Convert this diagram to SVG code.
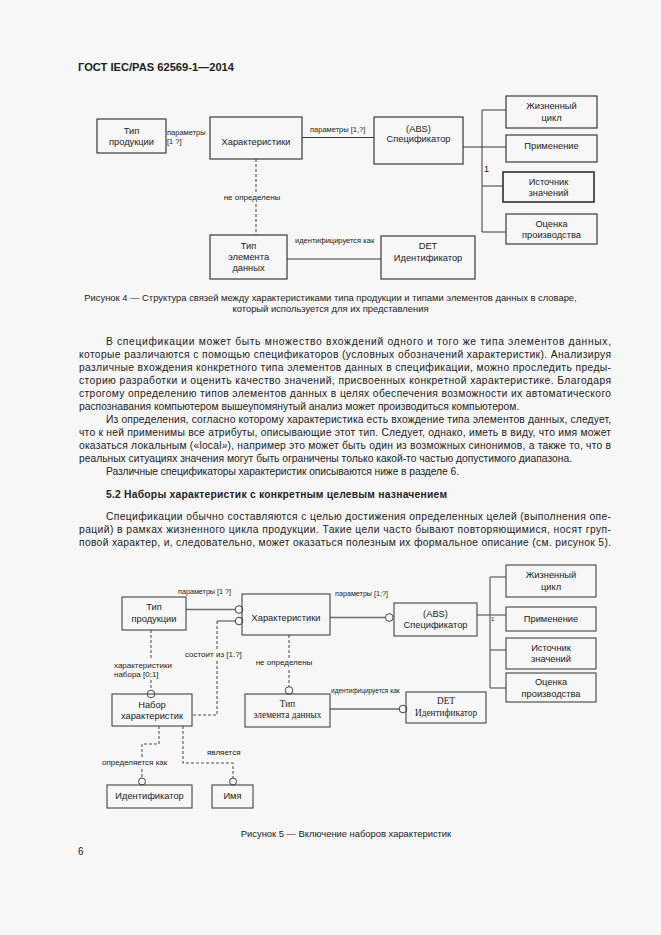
<svg xmlns="http://www.w3.org/2000/svg" width="661" height="935" viewBox="0 0 661 935">
<style>
.bg{fill:#f7f7f7}
.box{fill:none;stroke:#3a3a3a;stroke-width:1.2}
.box5{fill:none;stroke:#444;stroke-width:1.1}
.ln{fill:none;stroke:#3a3a3a;stroke-width:1}
.ln5{fill:none;stroke:#6a6a6a;stroke-width:1.3}
.dash{fill:none;stroke:#555;stroke-width:1.1;stroke-dasharray:3,2}
.circ{fill:#f7f7f7;stroke:#444;stroke-width:1}
.lbg{fill:#f7f7f7}
text{font-family:"Liberation Sans",Arial,sans-serif;fill:#222}
.body{font-size:10.3px}
.hdr{font-size:11px;font-weight:bold}
.cap{font-size:9.4px}
.nt{font-size:9.3px;text-anchor:middle}
.lb{font-size:7.5px}
.lb8{font-size:8px}
.ls{font-size:6.5px}
.sr{font-family:"Liberation Serif","Times New Roman",serif;font-size:9.3px;text-anchor:middle}
</style>
<rect class="bg" x="0" y="0" width="661" height="935"/>

<text class="hdr" x="78" y="70.5" textLength="156" lengthAdjust="spacingAndGlyphs">ГОСТ IEC/PAS 62569-1—2014</text>

<!-- Figure 4 -->
<g id="fig4-connectors">
<line class="ln" x1="302" y1="137.5" x2="374" y2="137.5"/>
<line class="dash" x1="256" y1="159" x2="256" y2="235"/>
<line class="ln" x1="287" y1="259" x2="381" y2="259"/>
<line class="ln" x1="463" y1="147" x2="482" y2="147"/>
<line class="ln" x1="482" y1="110" x2="482" y2="232"/>
<line class="ln" x1="482" y1="110" x2="506" y2="110"/>
<line class="ln" x1="482" y1="147" x2="506" y2="147"/>
<line class="ln" x1="482" y1="186" x2="503" y2="186"/>
<line class="ln" x1="482" y1="232" x2="506" y2="232"/>
<text class="lb" x="167" y="134.5">параметры</text>
<text class="lb" x="167" y="144">[1 ?]</text>
<text class="lb" x="310" y="131.5">параметры [1,?]</text>
<rect class="lbg" x="220" y="192" width="64" height="10"/>
<text class="lb8" x="252" y="199.5" text-anchor="middle">не определены</text>
<text class="lb" x="295" y="243">идентифицируется как</text>
<text x="484" y="172" style="font-size:9px">1</text>
</g>
<g id="f4-tip-produkcii">
<rect class="box" x="97" y="119" width="69" height="34"/>
<text class="nt" x="131.5" y="133.5">Тип</text>
<text class="nt" x="131.5" y="145">продукции</text>
</g>
<g id="f4-harakteristiki">
<rect class="box" x="210" y="117" width="92" height="42"/>
<text class="nt" x="256" y="145">Характеристики</text>
</g>
<g id="f4-specifikator">
<rect class="box" x="374" y="117" width="89" height="47"/>
<text class="nt" x="418.5" y="131.5">(ABS)</text>
<text class="nt" x="418.5" y="142">Спецификатор</text>
</g>
<g id="f4-tip-elementa">
<rect class="box" x="210" y="235" width="77" height="44"/>
<text class="nt" x="248.5" y="249">Тип</text>
<text class="nt" x="248.5" y="260">элемента</text>
<text class="nt" x="248.5" y="271">данных</text>
</g>
<g id="f4-det">
<rect class="box" x="381" y="236" width="94" height="43"/>
<text class="nt" x="428" y="249">DET</text>
<text class="nt" x="428" y="260.5">Идентификатор</text>
</g>
<g id="f4-zhiznennyj">
<rect class="box" x="506" y="96" width="91" height="32"/>
<text class="nt" x="551.5" y="109">Жизненный</text>
<text class="nt" x="551.5" y="120.5">цикл</text>
</g>
<g id="f4-primenenie">
<rect class="box" x="506" y="135" width="91" height="27"/>
<text class="nt" x="551.5" y="149">Применение</text>
</g>
<g id="f4-istochnik">
<rect class="box" x="503" y="172" width="91" height="30" style="stroke-width:1.5;stroke:#222"/>
<text class="nt" x="548.5" y="185">Источник</text>
<text class="nt" x="548.5" y="196">значений</text>
</g>
<g id="f4-ocenka">
<rect class="box" x="506" y="214" width="91" height="30"/>
<text class="nt" x="551.5" y="226.5">Оценка</text>
<text class="nt" x="551.5" y="238">производства</text>
</g>

<text class="cap" x="330.5" y="301" text-anchor="middle">Рисунок 4 — Структура связей между характеристиками типа продукции и типами элементов данных в словаре,</text>
<text class="cap" x="330.5" y="311.5" text-anchor="middle">который используется для их представления</text>

<!-- Body text -->
<g id="body">
<text class="body" x="106" y="344.7" textLength="505" lengthAdjust="spacing">В спецификации может быть множество вхождений одного и того же типа элементов данных,</text>
<text class="body" x="79" y="357.7" textLength="532" lengthAdjust="spacing">которые различаются с помощью спецификаторов (условных обозначений характеристик). Анализируя</text>
<text class="body" x="79" y="370.7" textLength="532" lengthAdjust="spacing">различные вхождения конкретного типа элементов данных в спецификации, можно проследить преды-</text>
<text class="body" x="79" y="383.7" textLength="532" lengthAdjust="spacing">сторию разработки и оценить качество значений, присвоенных конкретной характеристике. Благодаря</text>
<text class="body" x="79" y="396.7" textLength="532" lengthAdjust="spacing">строгому определению типов элементов данных в целях обеспечения возможности их автоматического</text>
<text class="body" x="79" y="409.7">распознавания компьютером вышеупомянутый анализ может производиться компьютером.</text>
<text class="body" x="106" y="422.7" textLength="505" lengthAdjust="spacing">Из определения, согласно которому характеристика есть вхождение типа элементов данных, следует,</text>
<text class="body" x="79" y="435.7" textLength="532" lengthAdjust="spacing">что к ней применимы все атрибуты, описывающие этот тип. Следует, однако, иметь в виду, что имя может</text>
<text class="body" x="79" y="448.7" textLength="532" lengthAdjust="spacing">оказаться локальным («local»), например это может быть один из возможных синонимов, а также то, что в</text>
<text class="body" x="79" y="461.7" textLength="493" lengthAdjust="spacing">реальных ситуациях значения могут быть ограничены только какой-то частью допустимого диапазона.</text>
<text class="body" x="106" y="474.7" textLength="353" lengthAdjust="spacing">Различные спецификаторы характеристик описываются ниже в разделе 6.</text>
<text class="body" x="106" y="497.7" style="font-weight:bold" textLength="341" lengthAdjust="spacing">5.2 Наборы характеристик с конкретным целевым назначением</text>
<text class="body" x="106" y="519.7" textLength="505" lengthAdjust="spacing">Спецификации обычно составляются с целью достижения определенных целей (выполнения опе-</text>
<text class="body" x="79" y="532.7" textLength="532" lengthAdjust="spacing">раций) в рамках жизненного цикла продукции. Такие цели часто бывают повторяющимися, носят груп-</text>
<text class="body" x="79" y="545.7" textLength="532" lengthAdjust="spacing">повой характер, и, следовательно, может оказаться полезным их формальное описание (см. рисунок 5).</text>
</g>

<!-- Figure 5 -->
<g id="fig5-connectors">
<line class="ln5" x1="186" y1="609.5" x2="235" y2="609.5"/>
<circle class="circ" cx="239" cy="609.5" r="3.8"/>
<line class="ln5" x1="217" y1="621" x2="235" y2="621"/>
<circle class="circ" cx="239" cy="621" r="3.8"/>
<polyline class="dash" points="217,621 217,715 192,715"/>
<line class="dash" x1="151" y1="630" x2="151" y2="690"/>
<circle class="circ" cx="151" cy="694" r="3.8"/>
<line class="dash" x1="289" y1="635" x2="289" y2="687"/>
<circle class="circ" cx="289" cy="690.5" r="3.8"/>
<line class="ln5" x1="330" y1="709" x2="399" y2="709"/>
<circle class="circ" cx="403" cy="709" r="3.8"/>
<line class="ln5" x1="330" y1="617.5" x2="385.5" y2="617.5"/>
<circle class="circ" cx="389.3" cy="617.5" r="3.8"/>
<line class="ln5" x1="477" y1="615" x2="490" y2="615"/>
<line class="ln5" x1="490" y1="577" x2="490" y2="688"/>
<line class="ln5" x1="490" y1="577" x2="506" y2="577"/>
<line class="ln5" x1="490" y1="615" x2="506" y2="615"/>
<line class="ln5" x1="490" y1="650" x2="506" y2="650"/>
<line class="ln5" x1="490" y1="688" x2="506" y2="688"/>
<polyline class="dash" points="159,726 159,744 142,744 142,778"/>
<circle class="circ" cx="142" cy="781.5" r="3.5"/>
<polyline class="dash" points="183,726 183,763 233,763 233,778"/>
<circle class="circ" cx="233" cy="781.5" r="3.5"/>
<text class="lb" x="178" y="593.5" style="font-size:7.2px">параметры [1 ?]</text>
<text class="lb" x="335" y="595.5" style="font-size:7.2px">параметры [1;?]</text>
<rect class="lbg" x="184" y="649" width="60" height="10"/>
<text class="lb8" x="185" y="656.5">состоит из [1.?]</text>
<rect class="lbg" x="113" y="660" width="62" height="20"/>
<text class="lb8" x="114" y="667.5">характеристики</text>
<text class="lb8" x="114" y="677">набора [0;1]</text>
<rect class="lbg" x="253" y="658" width="62" height="10"/>
<text class="lb8" x="284" y="665" text-anchor="middle">не определены</text>
<text class="ls" x="331" y="693">идентифицируется как</text>
<rect class="lbg" x="101" y="758" width="70" height="10"/>
<text class="lb8" x="102" y="765">определяется как</text>
<text class="lb8" x="207" y="755">является</text>
<text x="491" y="621" style="font-size:6px">1</text>
</g>
<g id="f5-tip-produkcii">
<rect class="box5" x="122" y="597" width="64" height="33"/>
<text class="nt" x="154" y="610">Тип</text>
<text class="nt" x="154" y="621.5">продукции</text>
</g>
<g id="f5-harakteristiki">
<rect class="box5" x="242" y="594" width="88" height="41"/>
<text class="nt" x="286" y="620.5">Характеристики</text>
</g>
<g id="f5-specifikator">
<rect class="box5" x="394" y="603" width="83" height="33"/>
<text class="nt" x="435.5" y="616.5">(ABS)</text>
<text class="nt" x="435.5" y="627.5">Спецификатор</text>
</g>
<g id="f5-zhiznennyj">
<rect class="box5" x="506" y="565" width="90" height="32"/>
<text class="nt" x="551" y="578">Жизненный</text>
<text class="nt" x="551" y="590">цикл</text>
</g>
<g id="f5-primenenie">
<rect class="box5" x="506" y="607" width="90" height="24"/>
<text class="nt" x="551" y="622">Применение</text>
</g>
<g id="f5-istochnik">
<rect class="box5" x="506" y="638" width="90" height="31"/>
<text class="nt" x="551" y="650.5">Источник</text>
<text class="nt" x="551" y="662">значений</text>
</g>
<g id="f5-ocenka">
<rect class="box5" x="506" y="673" width="90" height="29"/>
<text class="nt" x="551" y="685">Оценка</text>
<text class="nt" x="551" y="697">производства</text>
</g>
<g id="f5-nabor">
<rect class="box5" x="112" y="694" width="80" height="32"/>
<text class="nt" x="152" y="707.5">Набор</text>
<text class="nt" x="152" y="718.5">характеристик</text>
</g>
<g id="f5-tip-elementa">
<rect class="box5" x="245" y="694" width="85" height="33"/>
<text class="sr" x="287.5" y="706.5">Тип</text>
<text class="sr" x="287.5" y="717.5">элемента данных</text>
</g>
<g id="f5-det">
<rect class="box5" x="406" y="692" width="80" height="31"/>
<text class="sr" x="446" y="704">DET</text>
<text class="sr" x="446" y="715.5">Идентификатор</text>
</g>
<g id="f5-identifikator">
<rect class="box5" x="107" y="785" width="85" height="23"/>
<text class="nt" x="149.5" y="799">Идентификатор</text>
</g>
<g id="f5-imya">
<rect class="box5" x="212" y="785" width="41" height="23"/>
<text class="nt" x="232.5" y="799">Имя</text>
</g>

<text class="cap" x="346" y="836.5" text-anchor="middle">Рисунок 5 — Включение наборов характеристик</text>
<text x="78" y="855" style="font-size:10px">6</text>
</svg>
